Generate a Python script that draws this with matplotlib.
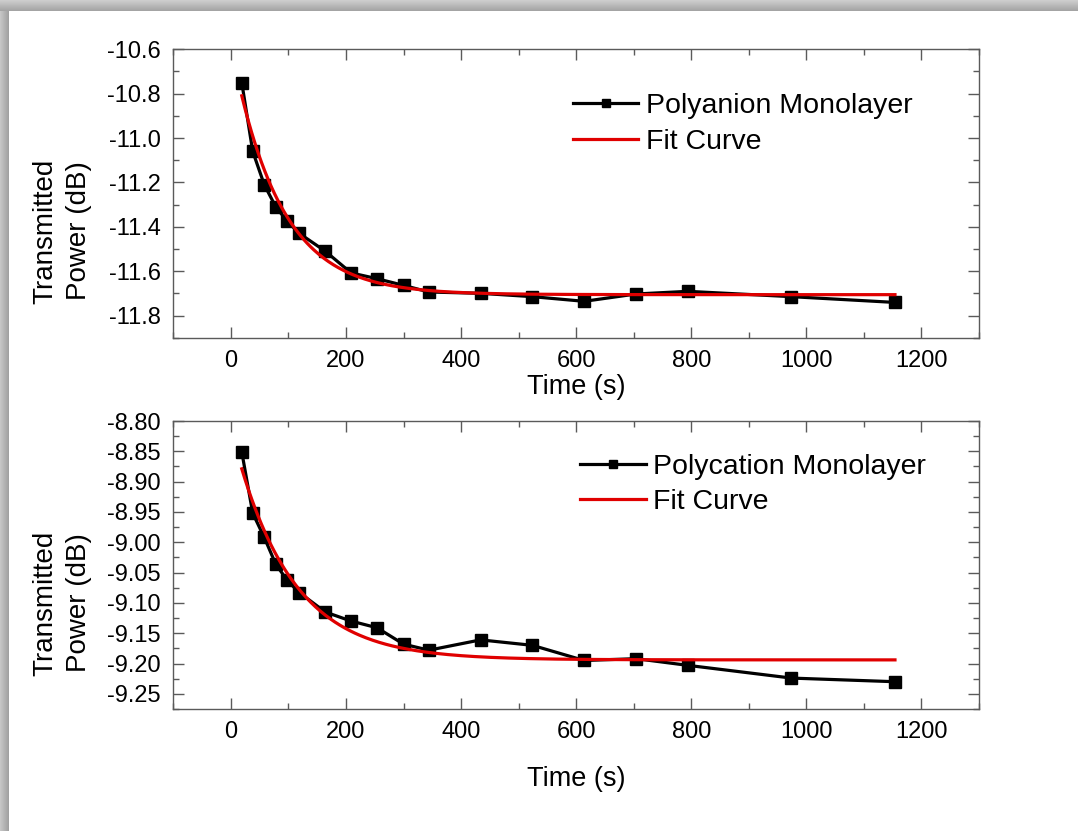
import numpy as np
import matplotlib
matplotlib.use("Agg")
import matplotlib.pyplot as plt
from matplotlib.ticker import MultipleLocator
from matplotlib.colors import LinearSegmentedColormap

# ---------------- data ----------------
time_s = [19, 38, 58, 78, 98, 119, 164, 209, 254, 300, 344, 434, 524, 614, 704, 794, 974, 1154]
power_anion = [-10.75, -11.06, -11.21, -11.31, -11.375, -11.43, -11.51, -11.608, -11.634,
               -11.664, -11.694, -11.700, -11.715, -11.736, -11.703, -11.691, -11.715, -11.741]
power_cation = [-8.851, -8.952, -8.992, -9.036, -9.063, -9.083, -9.115, -9.130, -9.141,
                -9.168, -9.178, -9.161, -9.170, -9.195, -9.192, -9.203, -9.224, -9.230]

# exponential fit parameters  y = y0 + A*exp(-t/tau)
fit_anion = {"y0": -11.706, "A": 1.124, "tau": 84.0}
fit_cation = {"y0": -9.194, "A": 0.381, "tau": 100.0}
fit_range = (19, 1154)

labels_anion = ["Polyanion Monolayer", "Fit Curve"]
labels_cation = ["Polycation Monolayer", "Fit Curve"]
xlabel = "Time (s)"
ylabel = "Transmitted\nPower (dB)"

# ---------------- style ----------------
plt.rcParams['font.family'] = ['Liberation Sans', 'DejaVu Sans']
W, H = 1078, 831
fig = plt.figure(figsize=(W / 100, H / 100), dpi=100)
fig.patch.set_facecolor('white')

spine_col = '#5a5a5a'


def px_axes(left, top, right, bottom):
    return fig.add_axes([left / W, 1 - bottom / H, (right - left) / W, (bottom - top) / H])


def draw_panel(ax, y, fit, labels, ylim, ymajor, yminor, yfmt, leg_anchor, xlabelpad, lspace):
    t_fit = np.linspace(fit_range[0], fit_range[1], 400)
    y_fit = fit["y0"] + fit["A"] * np.exp(-t_fit / fit["tau"])
    ax.plot(time_s, y, color='black', lw=2.3, marker='s', ms=8, mfc='black', mec='black',
            label=labels[0], zorder=3)
    ax.plot(t_fit, y_fit, color='#e00000', lw=2.3, label=labels[1], zorder=4)
    ax.set_xlim(-100, 1300)
    ax.set_ylim(*ylim)
    ax.xaxis.set_major_locator(MultipleLocator(200))
    ax.xaxis.set_minor_locator(MultipleLocator(100))
    ax.yaxis.set_major_locator(MultipleLocator(ymajor))
    ax.yaxis.set_minor_locator(MultipleLocator(yminor))
    ax.yaxis.set_major_formatter(plt.FormatStrFormatter(yfmt))
    ax.tick_params(which='both', direction='in', top=True, right=True, color=spine_col,
                   width=1.0, labelsize=17)
    ax.tick_params(which='major', length=8)
    ax.tick_params(which='minor', length=4)
    ax.tick_params(axis='y', pad=9)
    ax.tick_params(axis='x', pad=9)
    for s in ax.spines.values():
        s.set_color(spine_col)
        s.set_linewidth(1.0)
    ax.set_xlabel(xlabel, fontsize=19.5, labelpad=xlabelpad)
    leg = ax.legend(loc='upper left', bbox_to_anchor=leg_anchor, frameon=False,
                    fontsize=20.5, handlelength=2.3, handletextpad=0.25,
                    labelspacing=lspace, borderpad=0, borderaxespad=0, markerscale=0.8)
    return leg


ax1 = px_axes(173.3, 49.3, 979, 337.7)
draw_panel(ax1, power_anion, fit_anion, labels_anion, (-11.9, -10.6), 0.2, 0.1, '%.1f',
           (0.496, 0.85), 1, 0.38)

ax2 = px_axes(173.3, 421, 979, 709)
draw_panel(ax2, power_cation, fit_cation, labels_cation, (-9.275, -8.80), 0.05, 0.025, '%.2f',
           (0.505, 0.885), 16, 0.3)

# y labels (two lines, rotated)
fig.text(62 / W, 1 - 231 / H, ylabel, rotation=90, ha='center', va='center',
         multialignment='center', fontsize=20, linespacing=1.4)
fig.text(62 / W, 1 - 603 / H, ylabel, rotation=90, ha='center', va='center',
         multialignment='center', fontsize=20, linespacing=1.4)

# decorative gray frame at top and left
top_band = fig.add_axes([0, 1 - 11 / H, 1, 11 / H])
grad = np.linspace(0, 1, 50).reshape(-1, 1)
top_band.imshow(grad, aspect='auto', cmap=LinearSegmentedColormap.from_list(
    'g', ['#cfcfcf', '#a3a3a3']), extent=[0, 1, 0, 1])
top_band.axis('off')
left_band = fig.add_axes([0, 0, 9 / W, 1 - 11 / H])
grad2 = np.linspace(0, 1, 50).reshape(1, -1)
left_band.imshow(grad2, aspect='auto', cmap=LinearSegmentedColormap.from_list(
    'g2', ['#c8c8c8', '#a0a0a0']), extent=[0, 1, 0, 1])
left_band.axis('off')

fig.savefig('out.png', dpi=100)
